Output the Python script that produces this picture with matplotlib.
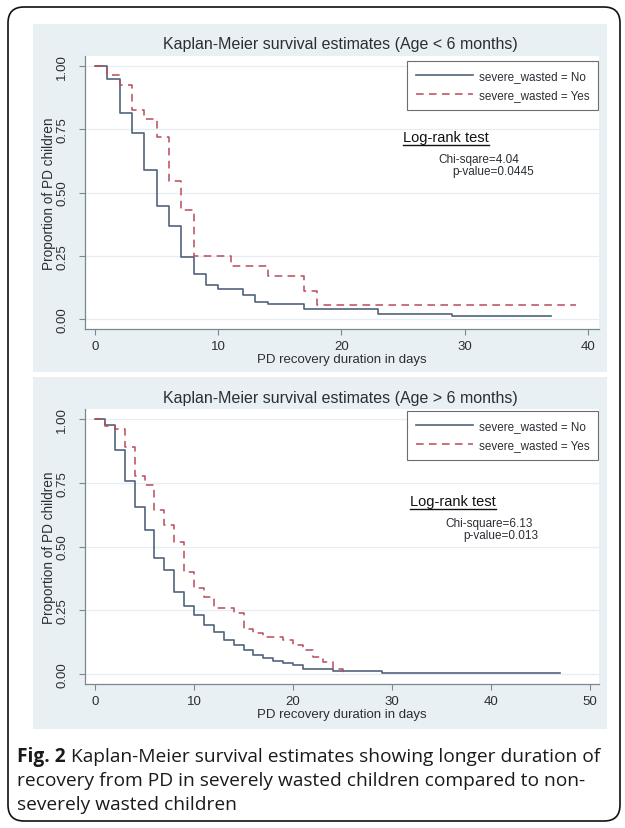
import numpy as np
import matplotlib.pyplot as plt
from matplotlib.patches import Rectangle, FancyBboxPatch
from matplotlib.lines import Line2D

W, H = 625, 829

# Age < 6 months: KM steps (time in days, survival proportion)
young_no_t = [0, 1, 2, 3, 4, 5, 6, 7, 8, 9, 10, 12, 13, 14, 17, 23, 29, 37]
young_no_s = [1.0, 0.95, 0.816, 0.737, 0.588, 0.447, 0.366, 0.243, 0.178, 0.136,
              0.118, 0.095, 0.068, 0.059, 0.04, 0.02, 0.01, 0.01]
young_yes_t = [0, 1, 2, 3, 4, 5, 6, 7, 8, 11, 14, 17, 18, 39]
young_yes_s = [1.0, 0.965, 0.925, 0.825, 0.79, 0.72, 0.545, 0.43, 0.25, 0.21,
               0.17, 0.11, 0.055, 0.055]

# Age > 6 months
old_no_t = [0, 1, 2, 3, 4, 5, 6, 7, 8, 9, 10, 11, 12, 13, 14, 15, 16, 17, 18,
            19, 20, 21, 24, 29, 47]
old_no_s = [1.0, 0.976, 0.88, 0.756, 0.654, 0.566, 0.455, 0.409, 0.32, 0.265,
            0.231, 0.193, 0.163, 0.131, 0.115, 0.094, 0.075, 0.061, 0.052, 0.043,
            0.035, 0.018, 0.011, 0.005, 0.005]
old_yes_t = [0, 1, 2, 3, 4, 5, 6, 7, 8, 9, 10, 11, 12, 14, 15, 16, 17, 19, 20,
             21, 22, 23, 24, 25]
old_yes_s = [1.0, 0.975, 0.963, 0.889, 0.775, 0.74, 0.644, 0.586, 0.516, 0.40,
             0.336, 0.30, 0.258, 0.239, 0.175, 0.16, 0.145, 0.132, 0.112, 0.092,
             0.068, 0.045, 0.02, 0.0]

titles = ["Kaplan-Meier survival estimates (Age < 6 months)",
          "Kaplan-Meier survival estimates (Age > 6 months)"]
legend_labels = ["severe_wasted = No", "severe_wasted = Yes"]
test_lines = [["Chi-sqare=4.04", "p-value=0.0445"],
              ["Chi-square=6.13", "p-value=0.013"]]
y_ticks = [0, 0.25, 0.5, 0.75, 1.0]
y_ticklabels = ["0.00", "0.25", "0.50", "0.75", "1.00"]
x_ticks = [[0, 10, 20, 30, 40], [0, 10, 20, 30, 40, 50]]
caption_bold = "Fig. 2"
caption_rest = [" Kaplan-Meier survival estimates showing longer duration of",
                "recovery from PD in severely wasted children compared to non-",
                "severely wasted children"]

plt.rcParams['font.family'] = ['Liberation Sans', 'DejaVu Sans']

c_no = '#51637b'
c_yes = '#b84b5b'
bg = '#e9f0f3'
axc = '#7c8790'
txt = '#2a2f35'


def px_rect(l, t, r, b):
    return [l / W, 1 - b / H, (r - l) / W, (b - t) / H]


fig = plt.figure(figsize=(W / 100, H / 100), dpi=100)

# rounded outer border
fig.add_artist(FancyBboxPatch((0.08, 0.07), 6.12, 8.14,
                              boxstyle="round,pad=0,rounding_size=0.16",
                              transform=fig.dpi_scale_trans, fill=False,
                              edgecolor='#111111', lw=1.2))

panels = [
    dict(bg=(33, 25, 607, 373), ax=(85, 57, 599, 330), xlim=(-0.81, 40.9),
         title_y=45, data=(young_no_t, young_no_s, young_yes_t, young_yes_s),
         leg_top=62, log_y=138, chi_x=438, p_x=452, log_x=403),
    dict(bg=(33, 378, 607, 730), ax=(85, 410, 599, 685), xlim=(-1.01, 50.9),
         title_y=398, data=(old_no_t, old_no_s, old_yes_t, old_yes_s),
         leg_top=412, log_y=502, chi_x=445, p_x=463, log_x=410),
]

underlines = []
for i, p in enumerate(panels):
    l, t, r, b = p['bg']
    fig.add_artist(Rectangle((l / W, 1 - b / H), (r - l) / W, (b - t) / H,
                             transform=fig.transFigure, facecolor=bg,
                             edgecolor='none', zorder=0))
    ax = fig.add_axes(px_rect(*p['ax']))
    ax.set_facecolor('white')
    nt, ns, yt, ys = p['data']
    ax.step(nt, ns, where='post', color=c_no, lw=1.2, label=legend_labels[0])
    ax.step(yt, ys, where='post', color=c_yes, lw=1.1, dashes=(5, 3.5),
            label=legend_labels[1])
    ax.set_xlim(*p['xlim'])
    ax.set_ylim(-0.04, 1.04)
    ax.set_xticks(x_ticks[i])
    ax.set_yticks(y_ticks)
    ax.set_yticklabels(y_ticklabels)
    for lab in ax.get_yticklabels():
        lab.set_rotation(90)
        lab.set_va('center')
    ax.grid(axis='y', color='#e6eef1', lw=0.9)
    ax.set_axisbelow(True)
    for s in ['top', 'right']:
        ax.spines[s].set_visible(False)
    for s in ['left', 'bottom']:
        ax.spines[s].set_color(axc)
        ax.spines[s].set_linewidth(0.9)
    ax.tick_params(axis='both', colors=axc, labelcolor=txt, labelsize=9.5,
                   length=4, width=0.8)
    ax.tick_params(axis='y', pad=8)
    ax.tick_params(axis='x', pad=4)
    ax.set_xlabel("PD recovery duration in days", fontsize=9.5, color=txt)
    ax.set_ylabel("Proportion of PD children", fontsize=9.8, color=txt)
    ah = p['ax'][3] - p['ax'][1]
    ax.xaxis.set_label_coords(0.5, -24 / ah)
    ax.yaxis.set_label_coords(-36 / 514, 0.5)
    ax.yaxis.label.set_va('center')

    fig.text(340 / W, 1 - p['title_y'] / H, titles[i], ha='center', va='center',
             fontsize=11.5, color=txt)

    leg = ax.legend(loc='upper right', bbox_to_anchor=(598 / W, 1 - p['leg_top'] / H),
                    bbox_transform=fig.transFigure, fancybox=False, framealpha=1,
                    edgecolor='#6d6d6d', borderaxespad=0, fontsize=8.4,
                    handlelength=4.9, handletextpad=0.5, labelspacing=0.6,
                    borderpad=0.75)
    leg.get_frame().set_linewidth(0.8)
    for tx in leg.get_texts():
        tx.set_color(txt)

    lt = fig.text(p['log_x'] / W, 1 - p['log_y'] / H, "Log-rank test",
                  ha='left', va='center', fontsize=10.5, color='#111111')
    underlines.append((lt, p['log_y'] + 8))
    fig.text(p['chi_x'] / W, 1 - (p['log_y'] + 22) / H, test_lines[i][0],
             ha='left', va='center', fontsize=8.5, color=txt)
    fig.text(p['p_x'] / W, 1 - (p['log_y'] + 34) / H, test_lines[i][1],
             ha='left', va='center', fontsize=8.5, color=txt)

# caption
cap_font = ['Open Sans', 'DejaVu Sans']
cap_size = 13.8
cap_y = [757, 781, 805]
fb = fig.text(17 / W, 1 - cap_y[0] / H, caption_bold, ha='left', va='center',
              fontsize=cap_size, fontweight='bold', family=cap_font, color='#1a1a1a')

fig.canvas.draw()
inv = fig.transFigure.inverted()
for lt, uy in underlines:
    bb = lt.get_window_extent().transformed(inv)
    fig.add_artist(Line2D([bb.x0, bb.x1], [1 - uy / H, 1 - uy / H],
                          transform=fig.transFigure, color='#111111', lw=1.0))

bbf = fb.get_window_extent().transformed(inv)
fig.text(bbf.x1, 1 - cap_y[0] / H, caption_rest[0], ha='left', va='center',
         fontsize=cap_size, family=cap_font, color='#1a1a1a')
for k in (1, 2):
    fig.text(17 / W, 1 - cap_y[k] / H, caption_rest[k], ha='left', va='center',
             fontsize=cap_size, family=cap_font, color='#1a1a1a')

fig.savefig("out.png", dpi=100)
